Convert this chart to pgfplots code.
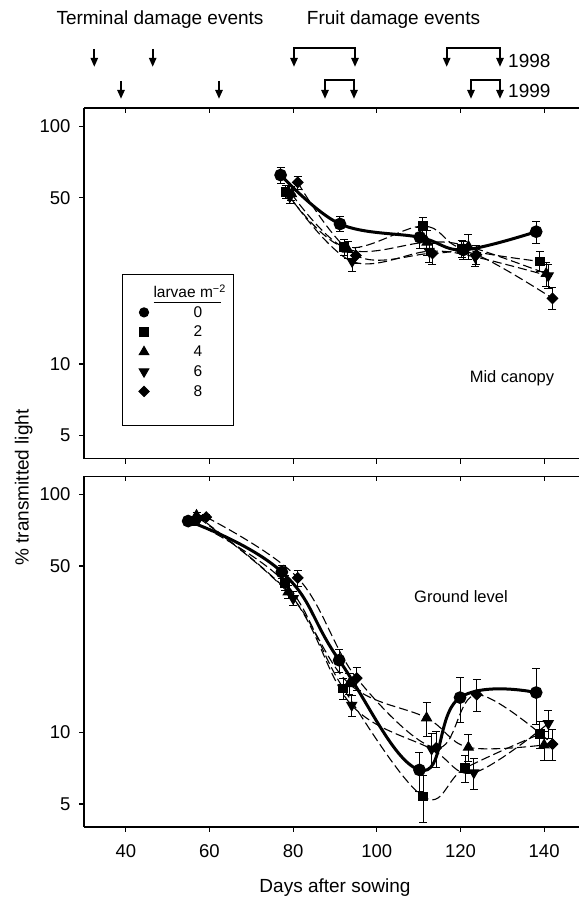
\documentclass[border=0pt]{standalone}
\usepackage{fontspec}
\setmainfont{Liberation Sans}
\usepackage{pgfplots}
\pgfplotsset{compat=1.18}
\usetikzlibrary{arrows.meta}

\newcommand{\tickfont}{\fontsize{18.5bp}{22bp}\selectfont}
\newcommand{\labfont}{\fontsize{19bp}{23bp}\selectfont}
\newcommand{\txtfont}{\fontsize{16.5bp}{20bp}\selectfont}

\pgfplotsset{
  panel/.style={
    scale only axis, width=495bp, height=350.5bp,
    xmin=30, xmax=148.34, ymin=4, ymax=119,
    ytick={5,10,50,100}, yticklabels={5,10,50,100},
    xtick={40,60,80,100,120,140},
    axis x line*=bottom, axis y line*=left,
    tick align=outside, major tick length=5bp,
    axis line style={line width=1.5bp},
    every tick/.style={black, line width=1.2bp},
    tick label style={font=\tickfont},
    yticklabel style={xshift=-5bp},
    xticklabel style={yshift=-9bp},
  },
  topticks/.style={
    scale only axis, width=495bp, height=350.5bp,
    xmin=30, xmax=148.34, ymin=0, ymax=1,
    axis x line*=top, axis y line=none,
    tick align=inside, major tick length=5bp,
    xtick={40,60,80,100,120,140}, xticklabels={},
    axis line style={line width=1.5bp},
    every tick/.style={black, line width=1.2bp},
  },
  ser/.style={black, smooth, tension=0.6, line width=1.1bp,
    dash pattern=on 9bp off 4bp,
    every mark/.append style={solid, fill=black},
    /pgfplots/error bars/y dir=both, /pgfplots/error bars/y explicit,
    /pgfplots/error bars/error mark=|,
    /pgfplots/error bars/error bar style={solid, line width=1bp},
    /pgfplots/error bars/error mark options={solid, line width=1bp, mark size=4bp}},
  ser0/.style={ser, solid, line width=3bp},
  mk0/.style={mark=*, mark size=4.8bp},
  mk2/.style={mark=square*, mark size=4.3bp},
  mk4/.style={mark=triangle*, mark size=5.6bp},
  mk6/.style={mark=triangle*, mark size=5.6bp, every mark/.append style={rotate=180}},
  mk8/.style={mark=square*, mark size=3.7bp, every mark/.append style={rotate=45}},
  markleg/.style={legend image code/.code={%
    \path (-17bp,0bp) (47bp,0bp);
    \draw[##1] plot coordinates {(0bp,0bp)};}},
}

% mid canopy
\pgfplotstableread{
x y e
77.0 62.3 4.8
91.2 38.8 2.9
110.3 34.1 3.5
120.7 30.2 2.6
138.1 36.0 3.8
}\midA
\pgfplotstableread{
x y e
78.2 53.0 3.5
92.2 31.0 2.5
111.0 38.0 3.2
120.3 30.6 2.5
139.0 27.0 2.6
}\midB
\pgfplotstableread{
x y e
79.6 52.0 3.5
93.0 30.4 2.5
112.0 32.5 4.0
121.9 31.2 3.8
140.5 24.0 2.8
}\midC
\pgfplotstableread{
x y e
79.2 50.5 3.2
94.1 27.0 2.4
112.5 29.8 3.0
123.5 28.2 2.5
141.0 23.5 2.8
}\midD
\pgfplotstableread{
x y e
81.1 58.0 3.6
95.0 28.6 2.2
113.3 29.2 3.0
123.8 28.8 2.6
142.0 18.9 2.0
}\midE

% ground level
\pgfplotstableread{
x y e
54.9 77.3 2.0
77.3 47.2 3.0
91.0 20.1 2.2
110.2 6.95 1.3
119.9 14.0 3.0
138.1 14.7 3.9
}\gndA
\pgfplotstableread{
x y e
56.0 77.0 2.0
78.1 42.5 3.0
92.0 15.3 1.6
111.1 5.37 1.2
121.1 7.07 0.9
139.0 9.84 1.3
}\gndB
\pgfplotstableread{
x y e
56.9 81.6 2.0
78.8 38.9 2.5
93.4 16.0 1.6
111.9 11.5 1.9
121.9 8.65 1.1
140.0 8.85 1.2
}\gndC
\pgfplotstableread{
x y e
57.5 79.5 2.0
80.0 36.5 2.5
94.0 13.0 1.3
113.1 8.5 1.4
123.2 6.77 1.0
141.0 10.9 1.5
}\gndD
\pgfplotstableread{
x y e
59.2 80.3 2.0
81.1 44.6 3.5
95.2 16.9 1.9
114.2 8.6 1.5
123.9 14.4 2.2
142.0 8.93 1.3
}\gndE

\begin{document}
\begin{tikzpicture}
\useasboundingbox (0,0) rectangle (579bp,898bp);

% upper panel: mid canopy
\begin{axis}[panel, ymode=log, at={(84bp,439.3bp)}, anchor=south west,
  xticklabels={},
  legend cell align=left,
  legend style={at={(rel axis cs:0.0768,0.527)}, anchor=north west,
    draw=black, line width=1bp, font=\fontsize{15.5bp}{18bp}\selectfont,
    inner xsep=4bp, inner ysep=8bp, row sep=3.5bp},
]
\addplot[ser0, mk0, forget plot] table[x=x, y=y, y error=e] {\midA};
\addplot[ser, mk2, forget plot] table[x=x, y=y, y error=e] {\midB};
\addplot[ser, mk4, forget plot] table[x=x, y=y, y error=e] {\midC};
\addplot[ser, mk6, forget plot] table[x=x, y=y, y error=e] {\midD};
\addplot[ser, mk8, forget plot] table[x=x, y=y, y error=e] {\midE};
\addlegendimage{empty legend}
\addlegendentry{\hspace*{-40bp}\rlap{\rule[-6bp]{67bp}{1.6bp}}larvae m\textsuperscript{−2}\hspace*{2bp}}
\addlegendimage{markleg, black, mark=*, mark size=4.6bp, mark options={fill=black}}
\addlegendentry{0}
\addlegendimage{markleg, black, mark=square*, mark size=4.2bp, mark options={fill=black}}
\addlegendentry{2}
\addlegendimage{markleg, black, mark=triangle*, mark size=5.5bp, mark options={fill=black}}
\addlegendentry{4}
\addlegendimage{markleg, black, mark=triangle*, mark size=5.5bp, mark options={fill=black, rotate=180}}
\addlegendentry{6}
\addlegendimage{markleg, black, mark=square*, mark size=3.6bp, mark options={fill=black, rotate=45}}
\addlegendentry{8}
\addlegendimage{empty legend}
\addlegendentry{\rule{0pt}{9bp}}
\end{axis}
\begin{axis}[topticks, at={(84bp,439.3bp)}, anchor=south west]
\end{axis}

% lower panel: ground level
\begin{axis}[panel, ymode=log, at={(84bp,71bp)}, anchor=south west,
  xticklabels={40,60,80,100,120,140}]
\addplot[ser0, mk0, tension=0.75] table[x=x, y=y, y error=e] {\gndA};
\addplot[ser, mk2] table[x=x, y=y, y error=e] {\gndB};
\addplot[ser, mk4] table[x=x, y=y, y error=e] {\gndC};
\addplot[ser, mk6] table[x=x, y=y, y error=e] {\gndD};
\addplot[ser, mk8] table[x=x, y=y, y error=e] {\gndE};
\end{axis}
\begin{axis}[topticks, at={(84bp,71bp)}, anchor=south west]
\end{axis}

\begin{scope}[x=1bp, y=1bp]
% titles and labels
\node[font=\labfont, anchor=base] at (160,873) {Terminal damage events};
\node[font=\labfont, anchor=base] at (393.5,873) {Fruit damage events};
\node[font=\labfont, anchor=base west, inner sep=0pt] at (508,830) {1998};
\node[font=\labfont, anchor=base west, inner sep=0pt] at (508,800) {1999};
\node[font=\labfont, anchor=base] at (335,6) {Days after sowing};
\node[font=\labfont, anchor=base, rotate=90, inner sep=0pt] at (28.5,410.5) {\% transmitted light};
\node[font=\txtfont] at (512,520) {Mid canopy};
\node[font=\txtfont] at (461,301) {Ground level};
% damage event arrows
\begin{scope}[line width=2.2bp, -{Triangle[width=7bp,length=9bp]}]
\draw (94.3,849) -- (94.3,831);
\draw (152.7,849) -- (152.7,831);
\draw (121,817) -- (121,799);
\draw (219,817) -- (219,799);
\end{scope}
\begin{scope}[line width=2.2bp, {Triangle[width=7bp,length=9bp]}-{Triangle[width=7bp,length=9bp]}]
\draw (294,831) -- (294,849.7) -- (355,849.7) -- (355,831);
\draw (446.7,831) -- (446.7,849.7) -- (500,849.7) -- (500,831);
\draw (325,799) -- (325,818) -- (354,818) -- (354,799);
\draw (471,799) -- (471,818) -- (500,818) -- (500,799);
\end{scope}
\end{scope}
\end{tikzpicture}
\end{document}
